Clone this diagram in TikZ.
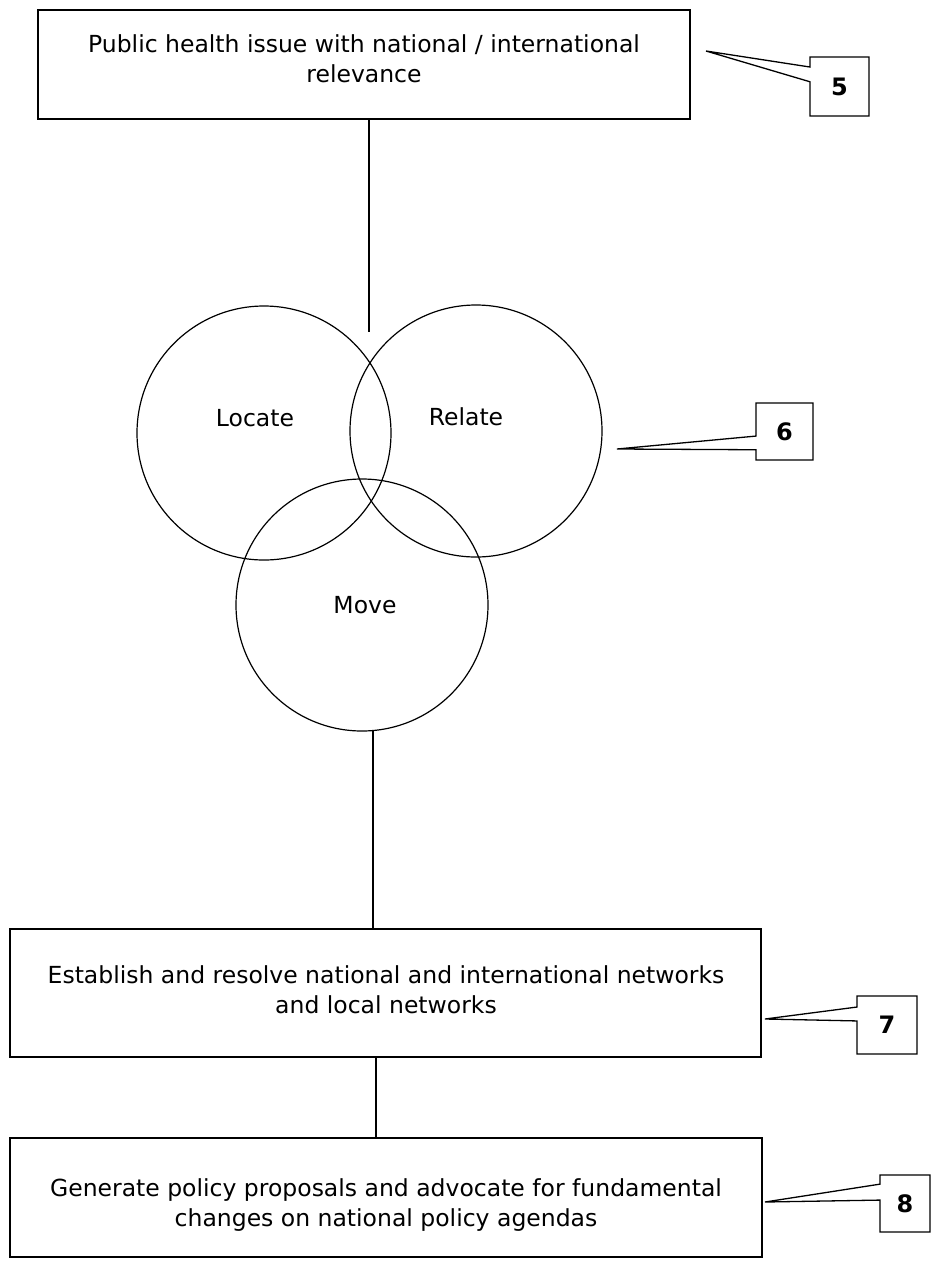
\documentclass[tikz,border=0pt]{standalone}
\usepackage{fontspec}
\setmainfont{DejaVu Sans}
\usetikzlibrary{calc}
\begin{document}
\begin{tikzpicture}[x=1pt,y=-1pt,
  every node/.style={inner sep=0pt, outer sep=0pt},
  frame/.style={draw, rectangle, line width=1.3pt},
  body/.style={align=center, font=\fontsize{23.5}{30}\selectfont},
  ring/.style={draw, circle, line width=1.2pt},
  tag/.style={rectangle, font=\fontsize{24}{28}\selectfont\bfseries},
  link/.style={line width=1.2pt},
  callout/.style={draw, line width=1.3pt, line join=miter}]
\useasboundingbox (0,0) rectangle (931,1267);

% main boxes
\node[frame, minimum width=652pt, minimum height=109pt] (b1) at (364,64.5) {};
\node[body] (t1) at (364,59) {Public health issue with national / international\\relevance};

\node[frame, minimum width=751pt, minimum height=128pt] (b2) at (385.5,993) {};
\node[body] (t2) at (386,990) {Establish and resolve national and international networks\\and local networks};

\node[frame, minimum width=752pt, minimum height=119pt] (b3) at (386,1197.5) {};
\node[body] (t3) at (386,1205) {Generate policy proposals and advocate for fundamental\\changes on national policy agendas};

% three overlapping circles
\node[ring, minimum size=254pt] (locate) at (264,433) {};
\node[ring, minimum size=252pt] (relate) at (476,431) {};
\node[ring, minimum size=252pt] (move) at (362,605) {};
\node[body] (l1) at (255,418) {Locate};
\node[body] (l2) at (466,417) {Relate};
\node[body] (l3) at (365,605) {Move};

% connectors
\coordinate (top) at (369,332);
\draw[link] ([xshift=5pt]b1.south) -- (top);
\draw[link] (move.-85) -- (move.-85 |- b2.north);
\draw[link] ([xshift=-9.5pt]b2.south) -- ([xshift=-10pt]b3.north);

% numbered callouts
\node[tag, minimum width=59pt, minimum height=59pt] (n5) at (839.5,86.5) {5};
\coordinate (p5) at (706,51);
\draw[callout] (n5.north west) -- (n5.north east) -- (n5.south east) -- (n5.south west)
  -- ($(n5.north west)!0.42!(n5.south west)$) -- (p5) -- ($(n5.north west)!0.17!(n5.south west)$) -- cycle;

\node[tag, minimum width=57pt, minimum height=57pt] (n6) at (784.5,431.5) {6};
\coordinate (p6) at (617,449);
\draw[callout] (n6.north west) -- (n6.north east) -- (n6.south east) -- (n6.south west)
  -- ($(n6.north west)!0.82!(n6.south west)$) -- (p6) -- ($(n6.north west)!0.58!(n6.south west)$) -- cycle;

\node[tag, minimum width=60pt, minimum height=58pt] (n7) at (887,1025) {7};
\coordinate (p7) at (765,1019);
\draw[callout] (n7.north west) -- (n7.north east) -- (n7.south east) -- (n7.south west)
  -- ($(n7.north west)!0.43!(n7.south west)$) -- (p7) -- ($(n7.north west)!0.19!(n7.south west)$) -- cycle;

\node[tag, minimum width=50pt, minimum height=57pt] (n8) at (905,1203.5) {8};
\coordinate (p8) at (765,1202);
\draw[callout] (n8.north west) -- (n8.north east) -- (n8.south east) -- (n8.south west)
  -- ($(n8.north west)!0.44!(n8.south west)$) -- (p8) -- ($(n8.north west)!0.16!(n8.south west)$) -- cycle;
\end{tikzpicture}
\end{document}
